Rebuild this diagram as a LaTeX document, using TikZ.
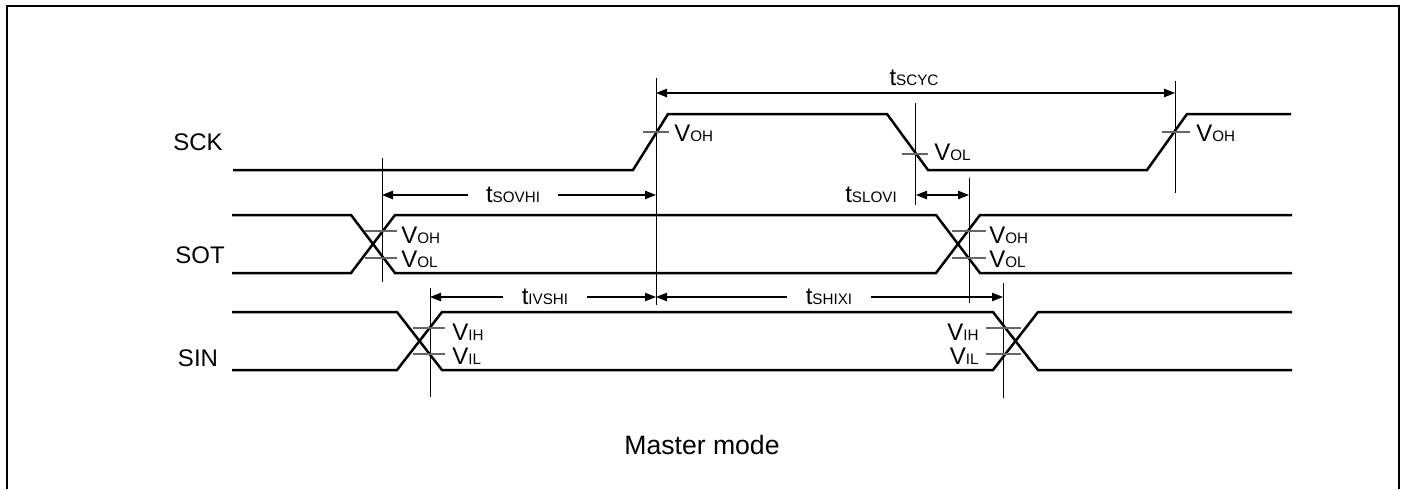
\documentclass[tikz,border=0pt]{standalone}
\usepackage{fontspec}
\setmainfont{Liberation Sans}
\usetikzlibrary{arrows.meta}
\newcommand\sublbl[2]{#1{\fontsize{7.6}{8}\selectfont #2}}
\begin{document}
\begin{tikzpicture}[x=0.5pt,y=-0.5pt,
 wave/.style={line width=1.25pt, line join=miter},
 guide/.style={line width=0.5pt},
 tickln/.style={line width=0.55pt, black!60},
 dim/.style={line width=0.55pt, -{Triangle[length=5.5pt,width=4.2pt]}},
 dimboth/.style={line width=0.55pt, {Triangle[length=5.5pt,width=4.2pt]}-{Triangle[length=5.5pt,width=4.2pt]}},
 sig/.style={font=\fontsize{12}{14}\selectfont, inner sep=0pt},
 vlab/.style={font=\fontsize{12}{14}\selectfont, inner sep=0pt, anchor=west},
 vlabr/.style={font=\fontsize{12}{14}\selectfont, inner sep=0pt, anchor=east},
 tlab/.style={font=\fontsize{12}{14}\selectfont, inner ysep=0pt, inner xsep=9pt}
]
\useasboundingbox (0,0) rectangle (1404,489);
\draw[line width=1pt] (7,489) -- (7,6) -- (1399,6) -- (1399,489);

% signal names
\node[sig] (sck) at (198,142) {SCK};
\node[sig] (sot) at (200,255) {SOT};
\node[sig] (sin) at (198,358) {SIN};

% waveforms
\draw[wave] (233,170) -- (633,170) -- (668,114) -- (887,114) -- (928,170) -- (1147,170) -- (1187,114) -- (1291,114);
\draw[wave] (232,215) -- (351,215) -- (395,273) -- (936,273) -- (980,215) -- (1292,215);
\draw[wave] (232,273) -- (351,273) -- (395,215) -- (936,215) -- (980,273) -- (1292,273);
\draw[wave] (232,312) -- (397,312) -- (442,370) -- (993,370) -- (1038,312) -- (1292,312);
\draw[wave] (232,370) -- (397,370) -- (442,312) -- (993,312) -- (1038,370) -- (1292,370);

% guide lines
\coordinate (g1t) at (656,78);  \coordinate (g1b) at (656,305);
\coordinate (g2t) at (915,103); \coordinate (g2b) at (915,205);
\coordinate (g3t) at (1175,81); \coordinate (g3b) at (1175,193);
\coordinate (g4t) at (382,158); \coordinate (g4b) at (382,282);
\coordinate (g5t) at (969,178); \coordinate (g5b) at (969,303);
\coordinate (g6t) at (430,288); \coordinate (g6b) at (430,397);
\coordinate (g7t) at (1003,283); \coordinate (g7b) at (1003,398);
\foreach \g in {g1,g2,g3,g4,g5,g6,g7} \draw[guide] (\g t) -- (\g b);

% threshold ticks
\draw[tickln] (643,132) -- (669,132);
\draw[tickln] (902,154) -- (928,154);
\draw[tickln] (1162,132) -- (1190,132);
\draw[tickln] (365,231) -- (397,231);
\draw[tickln] (365,258) -- (397,258);
\draw[tickln] (952,231) -- (986,231);
\draw[tickln] (952,258) -- (986,258);
\draw[tickln] (413,328) -- (445,328);
\draw[tickln] (413,354) -- (445,354);
\draw[tickln] (986,328) -- (1021,328);
\draw[tickln] (986,354) -- (1021,354);

% threshold labels
\node[vlab] (v1) at (674,133) {\sublbl{V}{OH}};
\node[vlab] (v2) at (934,152) {\sublbl{V}{OL}};
\node[vlab] (v3) at (1196,133) {\sublbl{V}{OH}};
\node[vlab] (v4) at (401,235) {\sublbl{V}{OH}};
\node[vlab] (v5) at (401,259) {\sublbl{V}{OL}};
\node[vlab] (v6) at (989,235) {\sublbl{V}{OH}};
\node[vlab] (v7) at (989,259) {\sublbl{V}{OL}};
\node[vlab] (v8) at (452,332) {\sublbl{V}{IH}};
\node[vlab] (v9) at (452,356) {\sublbl{V}{IL}};
\node[vlabr] (v10) at (979,332) {\sublbl{V}{IH}};
\node[vlabr] (v11) at (979,356) {\sublbl{V}{IL}};

% timing dimensions
\node[sig] (tscyc) at (914,78) {\sublbl{t}{SCYC}};
\coordinate (y93) at (0,93);
\draw[dimboth] (g1t |- y93) -- (g3t |- y93);

\node[tlab] (tsovhi) at (513,195) {\sublbl{t}{SOVHI}};
\draw[dim] (tsovhi.west) -- (tsovhi.west -| g4t);
\draw[dim] (tsovhi.east) -- (tsovhi.east -| g1t);

\node[sig] (tslovi) at (871,195) {\sublbl{t}{SLOVI}};
\coordinate (s1) at (916,195);
\draw[dimboth] (s1) -- (s1 -| g5t);

\node[tlab] (tivshi) at (545,297) {\sublbl{t}{IVSHI}};
\draw[dim] (tivshi.west) -- (tivshi.west -| g6t);
\draw[dim] (tivshi.east) -- (tivshi.east -| g1t);

\node[tlab] (tshixi) at (829,297) {\sublbl{t}{SHIXI}};
\draw[dim] (tshixi.west) -- (tshixi.west -| g1t);
\draw[dim] (tshixi.east) -- (tshixi.east -| g7t);

\node[font=\fontsize{13.3}{16}\selectfont, inner sep=0pt] (mode) at (702,445) {Master mode};
\end{tikzpicture}
\end{document}
